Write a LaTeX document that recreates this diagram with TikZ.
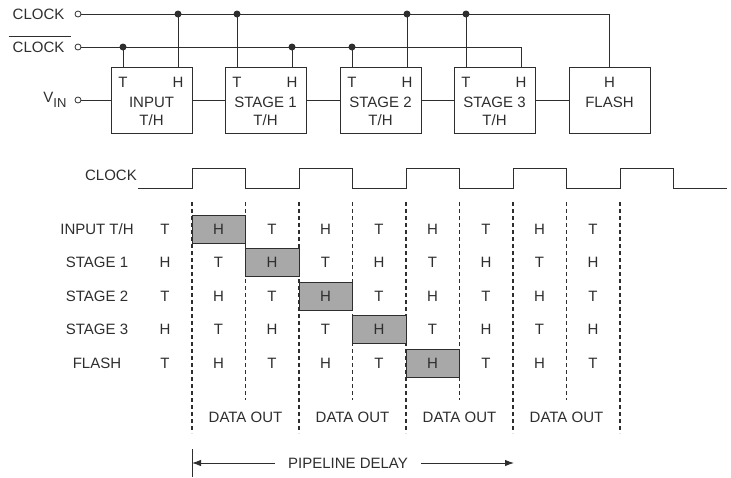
\documentclass[tikz,border=0pt]{standalone}
\usepackage{fontspec}
\setmainfont{Liberation Sans}
\usetikzlibrary{arrows.meta,positioning}
\definecolor{ink}{rgb}{0.18,0.18,0.18}
\definecolor{holdgray}{rgb}{0.66,0.66,0.66}
\tikzset{
  block/.style={
    draw=ink,
    line width=.9pt,
    minimum width=81pt,
    minimum height=66pt,
    inner sep=0pt,
    outer sep=0pt
  },
  lbl/.style={
    inner sep=0pt,
    text=ink
  },
  term/.style={
    circle,
    draw=ink,
    fill=white,
    line width=.8pt,
    minimum size=6pt,
    inner sep=0pt
  },
  junc/.style={
    circle,
    fill=ink,
    minimum size=7pt,
    inner sep=0pt
  },
  wire/.style={
    line width=.9pt,
    draw=ink
  },
  guide/.style={
    line width=1.5pt,
    draw=ink,
    dash pattern=on 4pt off 3pt
  },
  hold/.style={
    draw=ink,
    fill=holdgray,
    line width=1pt
  },
  delay/.style={
    -{Latex[length=9pt,width=6.5pt]},
    line width=.9pt,
    draw=ink
  }
}

\begin{document}
\begin{tikzpicture}[x=1pt,y=-1pt,font=\fontsize{15}{17}\selectfont]
\useasboundingbox (0,0) rectangle (731,477);

% track and hold chain
\node[block] (inp) at (151.5,100) {};
\node[block,right=33pt of inp] (st1) {};
\node[block,right=34pt of st1] (st2) {};
\node[block,right=33pt of st2] (st3) {};
\node[block,right=34pt of st3] (fl) {};

\node[lbl] (inpT) at ([shift={(12,15)}]inp.north west) {T};
\node[lbl] (inpH) at ([shift={(-14,15)}]inp.north east) {H};
\node[lbl] at ([shift={(0,2)}]inp.center) {INPUT};
\node[lbl] at ([shift={(0,20)}]inp.center) {T/H};
\node[lbl] (st1T) at ([shift={(12,15)}]st1.north west) {T};
\node[lbl] (st1H) at ([shift={(-14,15)}]st1.north east) {H};
\node[lbl] at ([shift={(0,2)}]st1.center) {STAGE 1};
\node[lbl] at ([shift={(0,20)}]st1.center) {T/H};
\node[lbl] (st2T) at ([shift={(12,15)}]st2.north west) {T};
\node[lbl] (st2H) at ([shift={(-14,15)}]st2.north east) {H};
\node[lbl] at ([shift={(0,2)}]st2.center) {STAGE 2};
\node[lbl] at ([shift={(0,20)}]st2.center) {T/H};
\node[lbl] (st3T) at ([shift={(12,15)}]st3.north west) {T};
\node[lbl] (st3H) at ([shift={(-14,15)}]st3.north east) {H};
\node[lbl] at ([shift={(0,2)}]st3.center) {STAGE 3};
\node[lbl] at ([shift={(0,20)}]st3.center) {T/H};
\node[lbl] (flH) at ([shift={(0,15)}]fl.north) {H};
\node[lbl] at ([shift={(0,2)}]fl.center) {FLASH};

% inputs
\node[term] (clk) at (78,14) {};
\node[lbl,left=10pt of clk] {CLOCK};
\node[term] (clkb) at (78,47) {};
\node[lbl,left=10pt of clkb] (ckb) {CLOCK};
\draw[line width=1pt,ink] ([shift={(-4,-5)}]ckb.north west) -- ([shift={(6,-5)}]ckb.north east);
\node[term] (vin) at (78,100) {};
\node[lbl,left=8pt of vin] {V\raisebox{-5pt}{\fontsize{13}{14}\selectfont IN}};

\draw[wire] (clk) -- (clk -| flH) -- (fl.north);
\draw[wire] (clkb) -- (clkb -| st3H) -- (st3H |- st3.north);
\draw[wire] (vin) -- (inp);
\draw[wire] (inp) -- (st1);
\draw[wire] (st1) -- (st2);
\draw[wire] (st2) -- (st3);
\draw[wire] (st3) -- (fl);

\draw[wire] (inpT |- inp.north) -- (inpT |- clkb) node[junc] {};
\draw[wire] (inpH |- inp.north) -- (inpH |- clk) node[junc] {};
\draw[wire] (st1T |- st1.north) -- (st1T |- clk) node[junc] {};
\draw[wire] (st1H |- st1.north) -- (st1H |- clkb) node[junc] {};
\draw[wire] (st2T |- st2.north) -- (st2T |- clkb) node[junc] {};
\draw[wire] (st2H |- st2.north) -- (st2H |- clk) node[junc] {};
\draw[wire] (st3T |- st3.north) -- (st3T |- clk) node[junc] {};

% timing
\node[lbl,anchor=east] (ck) at (137,175) {CLOCK};
\draw[wire] (138,188) -- ++(54,0)
  \foreach \k in {1,...,5}{ -- ++(0,-20) -- ++(53.5,0) -- ++(0,20) -- ++(53.5,0)};

\foreach \x in {192,299,406,513,620}
  \draw[guide] (\x,202) -- (\x,433);
\foreach \x in {245.5,352.5,459.5,566.5}
  \draw[guide] (\x,202) -- (\x,400);

\foreach \j in {0,...,4}
  \draw[hold] ({192+53.5*\j},{215+33.5*\j}) rectangle ++(53.5,28);

\foreach \nm [count=\j from 0] in {INPUT T/H,STAGE 1,STAGE 2,STAGE 3,FLASH}
  \node[lbl] (row\j) at (97,{229+33.5*\j}) {\nm};

\foreach \vals [count=\j from 0] in {{T,H,T,H,T,H,T,H,T},{H,T,H,T,H,T,H,T,H},{T,H,T,H,T,H,T,H,T},{H,T,H,T,H,T,H,T,H},{T,H,T,H,T,H,T,H,T}}
  \foreach \v [count=\c from 0] in \vals
    \node[lbl] (g\j\c) at ({165+53.5*\c},{229+33.5*\j}) {\v};

\foreach \x [count=\i] in {245.5,352.5,459.5,566.5}
  \node[lbl] (out\i) at (\x,417) {DATA OUT};

% pipeline delay
\node[lbl,inner sep=13pt] (pd) at (348,463) {PIPELINE DELAY};
\coordinate (pdl) at (192,463);
\coordinate (pdr) at (514,463);
\draw[wire] (192,449) -- (192,477);
\draw[delay] (pd) -- (pdl);
\draw[delay] (pd) -- (pdr);
\end{tikzpicture}
\end{document}
